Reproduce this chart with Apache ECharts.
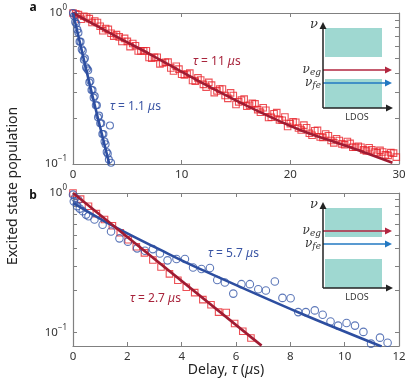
<!DOCTYPE html>
<html>
<head>
<meta charset="utf-8">
<script src="https://cdn.jsdelivr.net/npm/echarts@6/dist/echarts.min.js"></script>
<style>
  html, body { margin: 0; padding: 0; background: #fff; }
  #chart { width: 416px; height: 380px; }
</style>
</head>
<body>
<div id="chart"></div>
<script>
// panel a: long-lived (red) and short-lived (blue) decays
const delayRedA = [0, 0.5, 1, 1.5, 2, 2.5, 3, 3.5, 4, 4.5, 5, 5.5, 6, 6.5, 7, 7.5, 8, 8.5, 9, 9.5,
  10, 10.5, 11, 11.5, 12, 12.5, 13, 13.5, 14, 14.5, 15, 15.5, 16, 16.5, 17, 17.5, 18, 18.5, 19, 19.5,
  20, 20.5, 21, 21.5, 22, 22.5, 23, 23.5, 24, 24.5, 25, 25.5, 26, 26.5, 27, 27.5, 28, 28.5, 29, 29.5];
const popRedA = [1.0, 0.975, 0.951, 0.918, 0.885, 0.817, 0.789, 0.735, 0.719, 0.648, 0.649, 0.628, 0.560, 0.561, 0.507, 0.508, 0.460, 0.472, 0.432, 0.444,
  0.393, 0.394, 0.357, 0.372, 0.337, 0.347, 0.297, 0.313, 0.284, 0.296, 0.248, 0.265, 0.241, 0.252, 0.229, 0.236, 0.203, 0.215, 0.196, 0.205,
  0.185, 0.189, 0.168, 0.174, 0.155, 0.167, 0.150, 0.154, 0.138, 0.143, 0.134, 0.137, 0.129, 0.129, 0.122, 0.124, 0.119, 0.120, 0.114, 0.118];
const delayRedA2 = [0.25, 0.75, 1.25, 1.75, 2.25, 2.75, 3.25, 3.75, 4.25, 4.75, 5.25, 5.75, 6.25, 6.75, 7.25, 7.75, 8.25, 8.75, 9.25, 9.75,
  10.25, 10.75, 11.25, 11.75, 12.25, 12.75, 13.25, 13.75, 14.25, 14.75, 15.25, 15.75, 16.25, 16.75, 17.25, 17.75, 18.25, 18.75, 19.25, 19.75,
  20.25, 20.75, 21.25, 21.75, 22.25, 22.75, 23.25, 23.75, 24.25, 24.75, 25.25, 25.75, 26.25, 26.75, 27.25, 27.75, 28.25, 28.75, 29.25, 29.75];
const popRedA2 = [0.987, 0.910, 0.940, 0.866, 0.865, 0.762, 0.779, 0.703, 0.695, 0.679, 0.599, 0.607, 0.561, 0.562, 0.502, 0.509, 0.466, 0.473, 0.413, 0.425,
  0.389, 0.400, 0.354, 0.360, 0.323, 0.333, 0.305, 0.314, 0.272, 0.284, 0.258, 0.269, 0.245, 0.250, 0.220, 0.227, 0.204, 0.219, 0.195, 0.177,
  0.190, 0.173, 0.181, 0.160, 0.166, 0.151, 0.158, 0.143, 0.147, 0.136, 0.141, 0.129, 0.131, 0.124, 0.128, 0.120, 0.123, 0.115, 0.119, 0.111];
const delayBlueA = [0, 0.1, 0.2, 0.3, 0.4, 0.5, 0.6, 0.7, 0.8, 0.9, 1.0, 1.1, 1.2, 1.3, 1.4, 1.5, 1.6, 1.7,
  1.8, 1.9, 2.0, 2.1, 2.2, 2.3, 2.4, 2.5, 2.6, 2.7, 2.8, 2.9, 3.0, 3.1, 3.2, 3.3, 3.4, 3.5];
const popBlueA = [1.0, 0.955, 0.871, 0.851, 0.776, 0.741, 0.646, 0.646, 0.575, 0.562, 0.490, 0.501, 0.437, 0.427, 0.417, 0.347, 0.355, 0.309,
  0.309, 0.275, 0.282, 0.245, 0.245, 0.204, 0.209, 0.186, 0.186, 0.158, 0.158, 0.141, 0.135, 0.120, 0.117, 0.107, 0.180, 0.102];
const fitRedA_t = [0, 4.3, 7.06, 11.66, 16.25, 20.9, 25.5, 29.4];
const fitRedA_v = [1.0, 0.68, 0.535, 0.351, 0.238, 0.168, 0.129, 0.102];
const fitBlueA_t = [0, 1.66, 3.34];
const fitBlueA_v = [1.0, 0.309, 0.1];

// panel b
const delayRedB = [0, 0.28, 0.57, 0.86, 1.16, 1.45, 1.74, 2.03, 2.33, 2.63, 2.94, 3.24, 3.55, 3.86, 4.17, 4.48, 4.78, 5.08, 5.36, 5.64, 5.95, 6.25, 6.55];
const popRedB = [1.0, 0.904, 0.803, 0.711, 0.646, 0.582, 0.519, 0.462, 0.412, 0.372, 0.331, 0.295, 0.263, 0.237, 0.211, 0.193, 0.172, 0.158, 0.140, 0.139, 0.116, 0.102, 0.0912];
const delayBlueB = [0, 0.03, 0.08, 0.15, 0.2, 0.25, 0.36, 0.48, 0.57, 0.79, 1.09, 1.4, 1.71, 2.02, 2.36, 2.65, 2.94, 3.2, 3.48, 3.81, 4.12, 4.42, 4.73,
  5.04, 5.31, 5.59, 5.9, 6.2, 6.51, 6.82, 7.1, 7.43, 7.71, 8.01, 8.29, 8.57, 8.9, 9.19, 9.48, 9.76, 10.07, 10.38, 10.69, 10.97, 11.3, 11.58];
const popBlueB = [0.973, 0.871, 0.923, 0.805, 0.891, 0.773, 0.741, 0.700, 0.681, 0.646, 0.592, 0.530, 0.473, 0.448, 0.401, 0.385, 0.396, 0.368, 0.329, 0.336, 0.336, 0.292, 0.285,
  0.290, 0.238, 0.228, 0.190, 0.222, 0.222, 0.204, 0.200, 0.232, 0.177, 0.176, 0.140, 0.140, 0.144, 0.134, 0.120, 0.112, 0.117, 0.112, 0.101, 0.0832, 0.0918, 0.0845];
const fitRedB_t = [0, 6.94];
const fitRedB_v = [1.0, 0.0805];
const fitBlueB_t = [0, 1.47, 3.49, 4.67, 8.35, 11.36];
const fitBlueB_v = [0.851, 0.582, 0.368, 0.286, 0.138, 0.0794];

const yTickValues = [0.1, 0.2, 0.3, 0.4, 0.5, 0.6, 0.7, 0.8, 0.9, 1];
const yLabelValues = [0.1, 1];
const xTicksA = [0, 10, 20, 30];
const xTicksB = [0, 2, 4, 6, 8, 10, 12];

const FONT = 'Noto Sans';
const RED_PT = '#e8232b', RED_LN = '#a01b32';
const BLUE_PT = '#3556a8', BLUE_LN = '#2d4ea0';
const AX = '#808080';

const lg = v => Math.log10(v);
const pairs = (xs, ys) => xs.map((x, i) => [x, lg(ys[i])]);

const chart = echarts.init(document.getElementById('chart'));

function xAx(grid, ticks, bottom) {
  return {
    type: 'value', gridIndex: grid, position: bottom ? 'bottom' : 'top',
    min: ticks[0], max: ticks[ticks.length - 1], interval: ticks[1] - ticks[0],
    axisLine: { show: true, onZero: false, lineStyle: { color: AX, width: 1.2 } },
    axisTick: { show: true, inside: true, length: 4, lineStyle: { color: AX, width: 1 } },
    axisLabel: { show: bottom, margin: 5, color: '#333', fontSize: 11.5, fontFamily: FONT },
    splitLine: { show: false },
  };
}

function yAx(grid, minV, left) {
  return {
    type: 'value', gridIndex: grid, position: left ? 'left' : 'right',
    min: lg(minV), max: 0,
    axisLine: { show: true, onZero: false, lineStyle: { color: AX, width: 1.2 } },
    axisTick: {
      show: true, inside: true, length: 4, lineStyle: { color: AX, width: 1 },
      customValues: yTickValues.map(lg),
    },
    axisLabel: {
      show: left, margin: 6, color: '#333', fontFamily: FONT,
      customValues: yLabelValues.map(lg),
      formatter: v => (v > -0.5 ? '{b|10}{s|0}' : '{b|10}{s|\u22121}'),
      rich: {
        b: { fontSize: 11.5, fontFamily: FONT, color: '#333', lineHeight: 18 },
        s: { fontSize: 8, fontFamily: FONT, color: '#333', lineHeight: 10, verticalAlign: 'top' },
      },
    },
    splitLine: { show: false },
  };
}

function pts(name, xi, xs, ys, symbol, size, color) {
  return {
    name, type: 'scatter', xAxisIndex: xi, yAxisIndex: xi,
    data: pairs(xs, ys), symbol, symbolSize: size, z: 2,
    itemStyle: { color: 'rgba(255,255,255,0)', borderColor: color, borderWidth: 1.1 },
  };
}

function fit(name, xi, xs, ys, color) {
  return {
    name, type: 'line', xAxisIndex: xi, yAxisIndex: xi,
    data: pairs(xs, ys), showSymbol: false, smooth: 0.35, z: 3,
    lineStyle: { color, width: 2.6 },
  };
}

function tauLabel(x, y, txt, color) {
  return {
    type: 'text', x, y, z: 10,
    style: {
      text: '{i|\u03c4} = ' + txt + ' {i|\u03bc}s', fill: color, font: '12px "' + FONT + '"',
      verticalAlign: 'middle',
      rich: { i: { fontStyle: 'italic', fontSize: 12, fontFamily: FONT, fill: color } },
    },
  };
}

function inset(top, egY, feY) {
  const x0 = 323, yb = top + 88;
  const els = [];
  els.push({ type: 'rect', shape: { x: 325, y: top + 8, width: 57, height: 29 }, style: { fill: '#9fd8d1' }, z: 10 });
  els.push({ type: 'rect', shape: { x: 325, y: top + 59, width: 57, height: 29 }, style: { fill: '#9fd8d1' }, z: 10 });
  const arrow = (y, color, tip) => [
    { type: 'line', shape: { x1: x0, y1: y, x2: tip - 5, y2: y }, style: { stroke: color, lineWidth: 1.5 }, z: 11 },
    { type: 'polygon', shape: { points: [[tip, y], [tip - 7, y - 3.5], [tip - 7, y + 3.5]] }, style: { fill: color }, z: 11 },
  ];
  els.push(...arrow(top + egY, '#b2263f', 392));
  els.push(...arrow(top + feY, '#2278c2', 392));
  els.push(...arrow(yb, '#222', 393));
  els.push({ type: 'line', shape: { x1: x0, y1: yb, x2: x0, y2: top + 8 }, style: { stroke: '#222', lineWidth: 1.5 }, z: 11 });
  els.push({ type: 'polygon', shape: { points: [[x0, top + 2], [x0 - 3.5, top + 9], [x0 + 3.5, top + 9]] }, style: { fill: '#222' }, z: 11 });
  const serif = 'DejaVu Serif';
  const nuText = (y, sub) => ({
    type: 'text', x: 321, y, z: 11,
    style: {
      text: '{n|\u03bd}{s|' + sub + '}', align: 'right', verticalAlign: 'middle',
      rich: {
        n: { fontFamily: serif, fontStyle: 'italic', fontSize: 12, fill: '#333', lineHeight: 14, verticalAlign: 'middle' },
        s: { fontFamily: serif, fontStyle: 'italic', fontSize: 9, fill: '#333', lineHeight: 8, verticalAlign: 'bottom' },
      },
    },
  });
  els.push(nuText(top + egY, 'eg'));
  els.push(nuText(top + feY, 'fe'));
  els.push({
    type: 'text', x: 314, y: top + 5, z: 11,
    style: { text: '\u03bd', fontFamily: serif, fontStyle: 'italic', fontSize: 13, fill: '#333', align: 'center', verticalAlign: 'middle' },
  });
  els.push({
    type: 'text', x: 357, y: yb + 9, z: 11,
    style: { text: 'LDOS', font: '9px "' + FONT + '"', fill: '#333', align: 'center', verticalAlign: 'middle' },
  });
  return els;
}

const option = {
  animation: false,
  backgroundColor: '#fff',
  grid: [
    { left: 73, top: 13, width: 326, height: 151 },
    { left: 73, top: 193, width: 326, height: 153 },
  ],
  xAxis: [xAx(0, xTicksA, true), xAx(0, xTicksA, false), xAx(1, xTicksB, true), xAx(1, xTicksB, false)],
  yAxis: [yAx(0, 0.1, true), yAx(0, 0.1, false), yAx(1, 0.08, true), yAx(1, 0.08, false)],
  series: [
    pts('redA', 0, delayRedA.concat(delayRedA2), popRedA.concat(popRedA2), 'rect', 6.5, RED_PT),
    pts('blueA', 0, delayBlueA, popBlueA, 'circle', 7, BLUE_PT),
    fit('fitRedA', 0, fitRedA_t, fitRedA_v, RED_LN),
    fit('fitBlueA', 0, fitBlueA_t, fitBlueA_v, BLUE_LN),
    pts('redB', 2, delayRedB, popRedB, 'rect', 6.5, RED_PT),
    pts('blueB', 2, delayBlueB, popBlueB, 'circle', 7.5, BLUE_PT),
    fit('fitBlueB', 2, fitBlueB_t, fitBlueB_v, BLUE_LN),
    fit('fitRedB', 2, fitRedB_t, fitRedB_v, RED_LN),
  ],
  graphic: [
    { type: 'text', x: 33, y: 8, style: { text: 'a', font: 'bold 12px "' + FONT + '"', fill: '#111', align: 'center', verticalAlign: 'middle' } },
    { type: 'text', x: 33, y: 196, style: { text: 'b', font: 'bold 12px "' + FONT + '"', fill: '#111', align: 'center', verticalAlign: 'middle' } },
    {
      type: 'text', x: 13, y: 186, rotation: Math.PI / 2,
      style: { text: 'Excited state population', font: '14px "' + FONT + '"', fill: '#222', align: 'center', verticalAlign: 'middle' },
    },
    {
      type: 'text', x: 226, y: 370,
      style: {
        text: 'Delay, {i|\u03c4} ({i|\u03bc}s)', font: '14px "' + FONT + '"', fill: '#222', align: 'center', verticalAlign: 'middle',
        rich: { i: { fontStyle: 'italic', fontSize: 14, fontFamily: FONT, fill: '#222' } },
      },
    },
    tauLabel(193, 62, '11', '#a8243c'),
    tauLabel(110, 107, '1.1', '#3a55a4'),
    tauLabel(208, 254, '5.7', '#3a55a4'),
    tauLabel(130, 299, '2.7', '#a8243c'),
    ...inset(20, 50, 63),
    ...inset(200, 31, 44),
  ],
};

chart.setOption(option);
</script>
</body>
</html>
